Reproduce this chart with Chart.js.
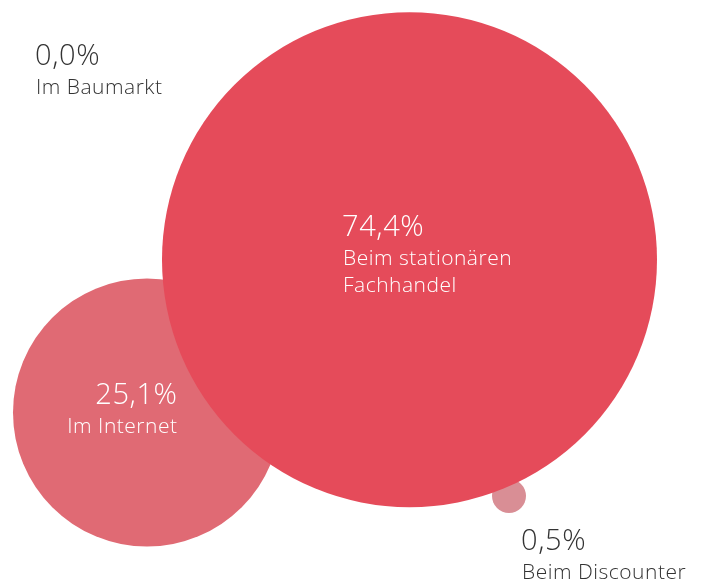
<!DOCTYPE html>
<html>
<head>
<meta charset="utf-8">
<script src="https://cdn.jsdelivr.net/npm/chart.js@4"></script>
<style>
  html, body { margin: 0; padding: 0; background: #fff; }
  #wrap { width: 702px; height: 585px; }
</style>
</head>
<body>
<div id="wrap"><canvas id="bubbles" width="702" height="585"></canvas></div>
<script>
// Chart data
const categories = ['Im Baumarkt', 'Im Internet', 'Beim Discounter', 'Beim stationären Fachhandel'];
const shares = [0.0, 25.1, 0.5, 74.4];
// bubble series (x, y in chart units, r in px)
const bubbleX = [100, 147, 509, 409.5];
const bubbleY = [70, 412.5, 496, 259.7];
const bubbleR = [0, 134, 17, 247.5];

const colors = ['#E54B5A', '#E06A74', '#D98E95', '#E54B5A'];

// where each text block sits (chart units) and how it is aligned
const labelLayout = [
    { x: 35, y: 65, align: 'left', color: '#333', lines: ['Im Baumarkt'] },
    { x: 177, y: 404, align: 'right', color: '#fff', lines: ['Im Internet'] },
    { x: 521, y: 550, align: 'left', color: '#333', lines: ['Beim Discounter'] },
    { x: 342, y: 236, align: 'left', color: '#fff', lines: ['Beim stationären', 'Fachhandel'] }
];

function formatShare(v) {
    return v.toFixed(1).replace('.', ',') + '%';
}

const textLabels = {
    id: 'textLabels',
    afterDatasetsDraw(chart) {
        const ctx = chart.ctx;
        const xs = chart.scales.x, ys = chart.scales.y;
        ctx.save();
        ctx.textBaseline = 'alphabetic';
        labelLayout.forEach((l, i) => {
            const px = xs.getPixelForValue(l.x);
            const py = ys.getPixelForValue(l.y);
            const shift = l.align === 'right' ? 0.6 : 0;
            ctx.fillStyle = l.color;
            ctx.textAlign = l.align;
            ctx.font = '300 29px "Open Sans", sans-serif';
            ctx.letterSpacing = '0.6px';
            ctx.fillText(formatShare(shares[i]), px + shift, py);
            ctx.font = '300 21px "Open Sans", sans-serif';
            ctx.letterSpacing = '0.5px';
            l.lines.forEach((line, j) => {
                ctx.fillText(line, px + (l.align === 'left' ? 1 : 0.5), py + 29 + j * 27);
            });
        });
        ctx.restore();
    }
};

new Chart(document.getElementById('bubbles'), {
    type: 'bubble',
    data: {
        labels: categories,
        datasets: [{
            label: 'Anteil',
            data: shares.map((v, i) => ({ x: bubbleX[i], y: bubbleY[i], r: bubbleR[i] })),
            backgroundColor: colors,
            borderWidth: 0,
            hoverRadius: 0,
            clip: false
        }]
    },
    options: {
        responsive: false,
        animation: false,
        layout: { padding: 0, autoPadding: false },
        plugins: {
            legend: { display: false },
            tooltip: { enabled: false }
        },
        scales: {
            x: { type: 'linear', min: 0, max: 702, display: false },
            y: { type: 'linear', min: 0, max: 585, reverse: true, display: false }
        }
    },
    plugins: [textLabels]
});
</script>
</body>
</html>
